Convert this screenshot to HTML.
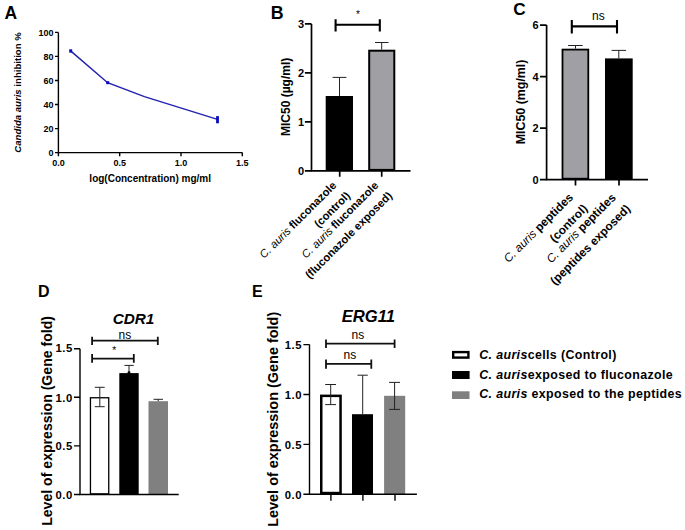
<!DOCTYPE html>
<html><head><meta charset="utf-8">
<style>
html,body{margin:0;padding:0;background:#fff;}
svg{display:block;}
text{font-family:"Liberation Sans",sans-serif;fill:#000;}
.b{font-weight:bold;}
.bi{font-weight:bold;font-style:italic;}
.i{font-style:italic;font-weight:normal;}
.r{font-weight:normal;}
.ax{stroke:#000;stroke-width:1.4;fill:none;}
.ax2{stroke:#000;stroke-width:1.7;fill:none;}
.br{stroke:#000;stroke-width:2.1;fill:none;}
.br2{stroke:#111;stroke-width:1.8;fill:none;}
.er{stroke:#222;stroke-width:1;fill:none;}
</style></head>
<body>
<svg width="685" height="530" viewBox="0 0 685 530">
<rect width="685" height="530" fill="#fff"/>

<!-- ============ PANEL A ============ -->
<text class="b" x="4.5" y="19" font-size="17.5">A</text>
<text class="b" font-size="9.6" text-anchor="middle" transform="translate(20.7,92.5) rotate(-90)"><tspan class="bi">Candida auris</tspan> inhibition %</text>
<g class="ax">
<path d="M58.4,32.4V152.6H242.3"/>
<path d="M55,32.4H58.4M55,56.4H58.4M55,80.5H58.4M55,104.5H58.4M55,128.6H58.4M55,152.6H58.4"/>
<path d="M58.4,152.6V156.3M119.7,152.6V156.3M181,152.6V156.3M242.3,152.6V156.3"/>
</g>
<g class="b" font-size="9" text-anchor="end">
<text x="53.5" y="36">100</text>
<text x="53.5" y="60">80</text>
<text x="53.5" y="84">60</text>
<text x="53.5" y="108">40</text>
<text x="53.5" y="132">20</text>
<text x="53.5" y="156">0</text>
</g>
<g class="b" font-size="9" text-anchor="middle">
<text x="58.4" y="166">0.0</text>
<text x="119.7" y="166">0.5</text>
<text x="181" y="166">1.0</text>
<text x="242.3" y="166">1.5</text>
</g>
<text class="b" font-size="10" text-anchor="middle" x="150.2" y="182">log(Concentration) mg/ml</text>
<polyline points="70.6,50.9 107.6,82.7 144.4,96.6 217.5,119.4" fill="none" stroke="#2222b0" stroke-width="1.5"/>
<rect x="69.2" y="49.3" width="3" height="3.3" fill="#0a0ac0"/>
<rect x="106.2" y="81.2" width="3" height="3" fill="#0a0ac0"/>
<rect x="216.1" y="116.1" width="2.8" height="7.2" fill="#0a0ac0"/>

<!-- ============ PANEL B ============ -->
<text class="b" x="270.8" y="19" font-size="17.8">B</text>
<text class="b" font-size="12" text-anchor="middle" transform="translate(290.3,96.9) rotate(-90)">MIC50 (µg/ml)</text>
<rect x="325.7" y="96" width="27.3" height="74.9" fill="#000"/>
<rect x="369.2" y="50.7" width="25.1" height="119.2" fill="#a09fa4" stroke="#000" stroke-width="2"/>
<path class="er" d="M339.5,96V77.4M332.6,77.4H346.4M381.7,49.7V42.5M375,42.5H388.5"/>
<g class="ax2">
<path d="M311.5,23.9V170.9H410.5"/>
<path d="M304.9,23.9H311.5M304.9,72.9H311.5M304.9,121.9H311.5M304.9,170.9H311.5"/>
<path d="M339.7,170.9V176.8M381.7,170.9V176.8"/>
</g>
<g class="b" font-size="11" text-anchor="end">
<text x="304" y="28">3</text>
<text x="304" y="77">2</text>
<text x="304" y="126">1</text>
<text x="304" y="175">0</text>
</g>
<path class="br" d="M335.6,24.8H379.8M335.6,19.2V31.6M379.8,19.2V31.6"/>
<text class="r" x="358" y="18" font-size="10" text-anchor="middle">*</text>
<g font-size="11.2" text-anchor="end">
<text transform="translate(337.1,186.1) rotate(-45)"><tspan class="i">C. auris </tspan><tspan class="b">fluconazole</tspan></text>
<text class="b" transform="translate(337.1,186.1) rotate(-45) translate(2.5,16.9)">(control)</text>
<text transform="translate(379.1,186.1) rotate(-45)"><tspan class="i">C. auris </tspan><tspan class="b">fluconazole</tspan></text>
<text class="b" transform="translate(379.1,186.1) rotate(-45) translate(2.5,16.9)">(fluconazole exposed)</text>
</g>

<!-- ============ PANEL C ============ -->
<text class="b" x="513.2" y="15.3" font-size="17.2">C</text>
<text class="b" font-size="12.4" text-anchor="middle" transform="translate(525.2,101.9) rotate(-90)">MIC50 (mg/ml)</text>
<rect x="562.5" y="49.6" width="25.8" height="129.1" fill="#a09fa4" stroke="#000" stroke-width="1.8"/>
<rect x="605" y="58.4" width="27.7" height="121.2" fill="#000"/>
<path class="er" d="M575.5,48.7V45.5M568.1,45.5H582.7M618.8,58.4V50.4M611.6,50.4H626.1"/>
<g class="ax2">
<path d="M546.6,25.1V179.6H648"/>
<path d="M540,25.1H546.6M540,76.6H546.6M540,128.1H546.6M540,179.6H546.6"/>
<path d="M575.5,179.6V185.4M619,179.6V185.4"/>
</g>
<g class="b" font-size="11" text-anchor="end">
<text x="538.7" y="29">6</text>
<text x="538.7" y="81">4</text>
<text x="538.7" y="132">2</text>
<text x="538.7" y="184">0</text>
</g>
<path class="br" d="M571.8,26.4H617M571.8,19.9V33.4M617,19.9V33.4"/>
<text class="r" x="598.4" y="20" font-size="12" text-anchor="middle">ns</text>
<g font-size="11.8" text-anchor="end">
<text transform="translate(573.8,198) rotate(-45)"><tspan class="i">C. auris </tspan><tspan class="b">peptides</tspan></text>
<text class="b" transform="translate(573.8,198) rotate(-45) translate(2.3,18.2)">(control)</text>
<text transform="translate(616.6,198.3) rotate(-45)"><tspan class="i">C. auris </tspan><tspan class="b">peptides</tspan></text>
<text class="b" transform="translate(616.6,198.3) rotate(-45) translate(2.3,18.2)">(peptides exposed)</text>
</g>

<!-- ============ PANEL D ============ -->
<text class="b" x="37.9" y="297" font-size="16">D</text>
<text class="b" font-size="14.1" text-anchor="middle" transform="translate(52,420.9) rotate(-90)">Level of expression (Gene fold)</text>
<text class="bi" x="133.5" y="324" font-size="15.3" text-anchor="middle">CDR1</text>
<rect x="90.45" y="397.75" width="18.3" height="96.1" fill="#fff" stroke="#000" stroke-width="1.3"/>
<rect x="119.3" y="373.1" width="19.4" height="121.4" fill="#000"/>
<rect x="148.5" y="401.2" width="19.5" height="93.3" fill="#808080"/>
<path class="er" d="M99.8,387.3V406.7M94.8,387.3H104.7M94.8,406.7H104.7M129,373.1V365.4M124.4,365.4H133.7M158.2,401.2V399.3M153.5,399.3H163"/>
<circle cx="129" cy="372.6" r="1.4" fill="#000"/>
<g class="ax">
<path d="M80,348.7V494.5H178.7"/>
<path d="M74,348.7H80M74,397.3H80M74,445.9H80M74,494.5H80"/>
</g>
<g class="b" font-size="11.3" letter-spacing="0.5" text-anchor="end">
<text x="72.8" y="352">1.5</text>
<text x="72.8" y="402">1.0</text>
<text x="72.8" y="450">0.5</text>
<text x="72.8" y="499">0.0</text>
</g>
<path class="br2" d="M92.1,340.7H157.8M92.1,336.8V344.9M157.8,336.8V344.9"/>
<text class="r" x="124.9" y="339" font-size="12" text-anchor="middle">ns</text>
<path class="br2" d="M92.1,358.6H133.8M92.1,353.9V362.8M133.8,353.9V362.8"/>
<text class="r" x="114.2" y="354" font-size="10" text-anchor="middle">*</text>

<!-- ============ PANEL E ============ -->
<text class="b" x="252" y="297" font-size="16">E</text>
<text class="b" font-size="14.45" text-anchor="middle" transform="translate(278,419.3) rotate(-90)">Level of expression (Gene fold)</text>
<text class="bi" x="368.3" y="322" font-size="16.6" text-anchor="middle">ERG11</text>
<rect x="321.25" y="395.85" width="19.3" height="97.2" fill="#fff" stroke="#000" stroke-width="2.5"/>
<rect x="352" y="414.2" width="21" height="80.1" fill="#000"/>
<rect x="384.1" y="395.8" width="21.1" height="98.5" fill="#808080"/>
<path class="er" d="M330.7,384.5V404.6M325.2,384.5H336M325.2,404.6H336M362.7,414.2V375.2M357.5,375.2H367.8M394.6,382.4V409.4M389.1,382.4H400M389.1,409.4H400"/>
<g class="ax">
<path d="M309.5,344.6V494.3H416.9"/>
<path d="M303.4,344.6H309.5M303.4,394.5H309.5M303.4,444.4H309.5M303.4,494.3H309.5"/>
<path d="M330.9,494.3V500.8M362.9,494.3V500.8M395,494.3V500.8"/>
</g>
<g class="b" font-size="11.3" letter-spacing="0.5" text-anchor="end">
<text x="302" y="349">1.5</text>
<text x="302" y="399">1.0</text>
<text x="302" y="449">0.5</text>
<text x="302" y="499">0.0</text>
</g>
<path class="br2" d="M326,343.7H394.6M326,339.6V348M394.6,339.6V348"/>
<text class="r" x="357.8" y="339" font-size="12" text-anchor="middle">ns</text>
<path class="br2" d="M326,363.8H371.3M326,359.5V368.7M371.3,359.5V368.7"/>
<text class="r" x="349.9" y="359" font-size="12" text-anchor="middle">ns</text>

<!-- ============ LEGEND ============ -->
<rect x="453.2" y="352.1" width="15.2" height="5.5" fill="#fff" stroke="#000" stroke-width="2.4"/>
<rect x="452" y="371" width="17.6" height="8" fill="#000"/>
<rect x="452" y="391.3" width="17.5" height="7.7" fill="#808080"/>
<g class="b" font-size="12.4" letter-spacing="0.38">
<text x="479.2" y="358.8"><tspan class="bi">C. auris</tspan>cells (Control)</text>
<text x="479.2" y="378.6"><tspan class="bi">C. auris</tspan>exposed to fluconazole</text>
<text x="479.2" y="398.4"><tspan class="bi">C. auris</tspan> exposed to the peptides</text>
</g>
</svg>
</body></html>
